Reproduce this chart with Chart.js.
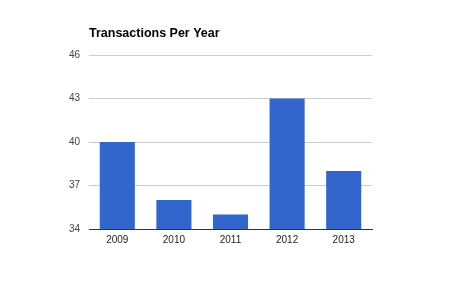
<!DOCTYPE html>
<html>
<head>
<meta charset="utf-8">
<script src="https://cdn.jsdelivr.net/npm/chart.js@4"></script>
<style>
  html, body { margin: 0; padding: 0; background: #fff; }
  #wrap { width: 460px; height: 284px; }
</style>
</head>
<body>
<div id="wrap"><canvas id="grafica"></canvas></div>
<script>
const years = ['2009', '2010', '2011', '2012', '2013'];
const transactions = [40, 36, 35, 43, 38];
const yTicks = [34, 37, 40, 43, 46];

const ctx = document.getElementById('grafica').getContext('2d');

const grafica = new Chart(ctx, {
  type: 'bar',
  data: {
    labels: years,
    datasets: [{
      label: 'Transactions',
      data: transactions,
      backgroundColor: '#3366cc',
      borderWidth: 0,
      categoryPercentage: 1,
      barPercentage: 0.62
    }]
  },
  options: {
    responsive: true,
    maintainAspectRatio: false,
    animation: false,
    layout: { padding: { top: 26, left: 59, right: 88, bottom: 33 } },
    plugins: {
      legend: { display: false },
      tooltip: { enabled: false },
      title: {
        display: true,
        text: 'Transactions Per Year',
        align: 'start',
        fullSize: false,
        color: '#000',
        font: { family: 'Arial, "Liberation Sans"', size: 12.5, weight: 'bold', lineHeight: 1.2 },
        padding: { top: 0, bottom: 14 }
      }
    },
    scales: {
      x: {
        grid: { display: false, drawTicks: false },
        border: { display: true, color: '#333', width: 1 },
        ticks: { color: '#222', font: { family: 'Arial, "Liberation Sans"', size: 10 }, padding: 5 }
      },
      y: {
        min: yTicks[0],
        max: yTicks[yTicks.length - 1],
        afterBuildTicks: s => { s.ticks = yTicks.map(v => ({ value: v })); },
        grid: { color: '#cccccc', drawTicks: false },
        border: { display: false },
        ticks: { color: '#444', font: { family: 'Arial, "Liberation Sans"', size: 10 }, padding: 9 },
        afterFit: s => { s.width = 30; }
      }
    }
  }
});
</script>
</body>
</html>
